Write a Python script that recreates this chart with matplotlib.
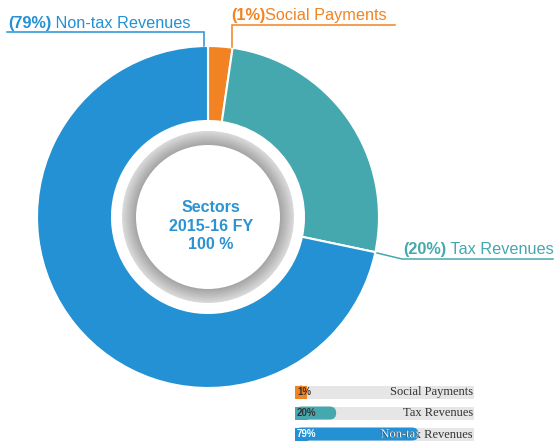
import numpy as np
import matplotlib
matplotlib.use("Agg")
import matplotlib.pyplot as plt
import matplotlib.patheffects as pe
from matplotlib.patches import Rectangle, FancyBboxPatch, Circle

plt.rcParams['font.family'] = ['Liberation Sans', 'DejaVu Sans']

W, H = 555, 443

# slices, clockwise from 12 o'clock (angular share as drawn in the picture)
names = ["Social Payments", "Tax Revenues", "Non-tax Revenues"]
shares = [2.3, 26.0, 71.7]
pct_labels = ["(1%)", "(20%)", "(79%)"]
colors = ['#f28322', '#45a8ae', '#2391d3']

# bar legend (fraction of track filled, as drawn)
bar_text = ["1%", "20%", "79%"]
bar_fill = [0.067, 0.23, 0.69]

center_lines = ["Sectors", "2015-16 FY", "100 %"]


def Y(y):
    return H - y


fig = plt.figure(figsize=(W / 100, H / 100), dpi=100)
ax = fig.add_axes([0, 0, 1, 1])
ax.set_xlim(0, W)
ax.set_ylim(0, H)
ax.set_aspect('equal')
ax.axis('off')

cx, cy = 208, 217
R_out, R_in = 171, 96

ax.pie(shares, colors=colors, startangle=90, counterclock=False,
       center=(cx, Y(cy)), radius=R_out, frame=False,
       wedgeprops=dict(width=R_out - R_in, edgecolor='white', linewidth=1.5))
ax.set_xlim(0, W)
ax.set_ylim(0, H)

# grey bevelled ring in the hole
radii = np.linspace(86, 72, 30)
greys = np.linspace(0.86, 0.64, 30)
for r, g in zip(radii, greys):
    ax.add_patch(Circle((cx, Y(cy)), r, facecolor=(g, g, g), edgecolor='none'))
ax.add_patch(Circle((cx, Y(cy)), 72, facecolor='white', edgecolor='none'))

for line, yy in zip(center_lines, [212, 231, 249]):
    ax.text(211, Y(yy), line, ha='center', va='baseline', fontsize=11.5,
            fontweight='bold', color='#2b93d1')

# outer labels with leader lines
label_cfg = [
    # (text x, baseline y, line points)
    (231, 20, [(232, 47), (232, 25), (395, 25)]),
    (403, 254, [(377, 253), (402, 259), (553, 259)]),
    (8, 28, [(204, 46), (204, 32), (7, 32)]),
]
for i, (tx, ty, pts) in enumerate(label_cfg):
    xs = [p[0] for p in pts]
    ys = [Y(p[1]) for p in pts]
    ax.plot(xs, ys, color=colors[i], lw=1.1, solid_joinstyle='miter')
    t1 = ax.text(tx, Y(ty), pct_labels[i], ha='left', va='baseline',
                 fontsize=11.7, fontweight='bold', color=colors[i])
    sep = "" if i == 0 else " "
    ax.annotate(sep + names[i], xy=(1, 0), xycoords=t1, ha='left', va='bottom',
                fontsize=11.7, color=colors[i])

# bar legend at bottom right
x0, x1 = 295, 474
bh = 13
for i, yc in enumerate([392, 413, 434]):
    yb = Y(yc) - bh / 2
    ax.add_patch(Rectangle((x0, yb), x1 - x0, bh, facecolor='#e6e6e6', edgecolor='none'))
    w = bar_fill[i] * (x1 - x0)
    bar = FancyBboxPatch((x0, yb), w, bh, boxstyle=f"round,pad=0,rounding_size={bh/2}",
                         facecolor=colors[i], edgecolor='none')
    ax.add_patch(bar)
    ax.add_patch(Rectangle((x0, yb), min(w, bh), bh, facecolor=colors[i], edgecolor='none'))
    ax.text(x0 + 2, Y(yc), bar_text[i], ha='left', va='center', fontsize=7,
            fontweight='bold', color='white' if i == 2 else '#333333')
    ax.text(x1 - 1, Y(yc) - 0.5, names[i], ha='right', va='center', fontsize=9,
            family='Liberation Serif', color='#333333')
    # part of the label lying on the bar is drawn light (text as path so it can be clipped)
    tw = ax.text(x1 - 1, Y(yc) - 0.5, names[i], ha='right', va='center', fontsize=9,
                 family='Liberation Serif', color='#e8f2fa',
                 path_effects=[pe.Normal()])
    tw.set_clip_on(True)
    tw.set_clip_path(bar)

fig.savefig("out.png", dpi=100)
